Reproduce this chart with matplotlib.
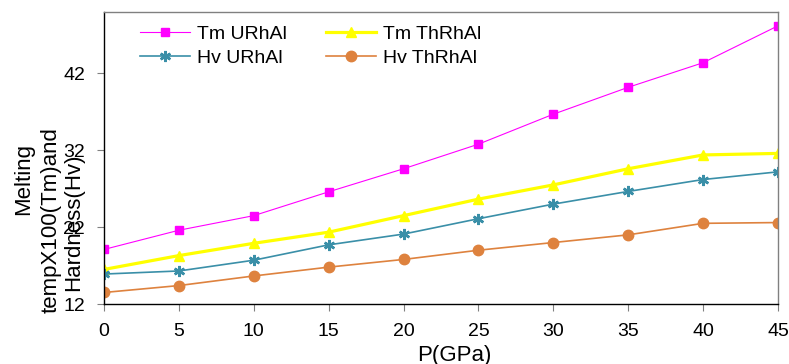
import numpy as np
import matplotlib
matplotlib.use('Agg')
import matplotlib.pyplot as plt

plt.rcParams['font.family'] = ['Liberation Sans', 'DejaVu Sans']

pressure = [0, 5, 10, 15, 20, 25, 30, 35, 40, 45]
tm_urhal = [19.1, 21.6, 23.5, 26.6, 29.6, 32.8, 36.7, 40.2, 43.4, 48.2]
tm_thrhal = [16.5, 18.3, 19.9, 21.35, 23.5, 25.65, 27.5, 29.6, 31.4, 31.6]
hv_urhal = [15.9, 16.3, 17.7, 19.7, 21.1, 23.1, 25.0, 26.65, 28.2, 29.2]
hv_thrhal = [13.5, 14.4, 15.65, 16.8, 17.8, 19.0, 20.0, 21.0, 22.5, 22.6]

fig = plt.figure(figsize=(7.89, 3.64), dpi=100)
ax = fig.add_axes([0.1318, 0.1648, 0.8542, 0.8022])

l1, = ax.plot(pressure, tm_urhal, color='#FF00FF', lw=0.8, marker='s', ms=5.5,
              label='Tm URhAl')
l2, = ax.plot(pressure, tm_thrhal, color='#FFFF00', lw=2.3, marker='^', ms=6.5,
              label='Tm ThRhAl')
l3, = ax.plot(pressure, hv_urhal, color='#3A8FA8', lw=1.2, marker=(6, 2, 0),
              ms=8, mew=1.8, label='Hv URhAl')
l4, = ax.plot(pressure, hv_thrhal, color='#DE823E', lw=1.2, marker='o', ms=7.5,
              label='Hv ThRhAl')

ax.set_xlim(0, 45)
ax.set_ylim(12, 50)
ax.set_xticks(pressure)
ax.set_yticks([12, 22, 32, 42])
ax.tick_params(axis='both', labelsize=14, length=5, color='#808080',
               width=0.8)
ax.tick_params(axis='x', pad=8.5)
ax.tick_params(axis='y', pad=8.5)

for side in ['top', 'right']:
    ax.spines[side].set_color('#808080')
for side in ['left', 'bottom']:
    ax.spines[side].set_color('black')
for s in ax.spines.values():
    s.set_linewidth(1.0)

ax.set_xlabel('P(GPa)', fontsize=16)
ax.xaxis.set_label_coords((454 - 104) / 674, -0.14)

# three-line y label, placed line by line
ylab = ['Melting', 'tempX100(Tm)and', 'Hardness(Hv)']
ylab_x = [24, 51, 74]
ylab_y = [179, 220, 222]
for t, px, py in zip(ylab, ylab_x, ylab_y):
    fig.text(px / 789, 1 - py / 364, t, rotation=90, fontsize=16,
             ha='center', va='center')

# row-wise order: Tm pair on top, Hv pair below
ax.legend([l1, l3, l2, l4], [l.get_label() for l in (l1, l3, l2, l4)],
          loc='upper left', ncol=2, frameon=False, fontsize=14,
          bbox_to_anchor=(0.053, 0.955), borderaxespad=0, borderpad=0,
          handlelength=2.6, columnspacing=2.0, labelspacing=0.35,
          handletextpad=0.35)

fig.savefig('out.png', dpi=100)
